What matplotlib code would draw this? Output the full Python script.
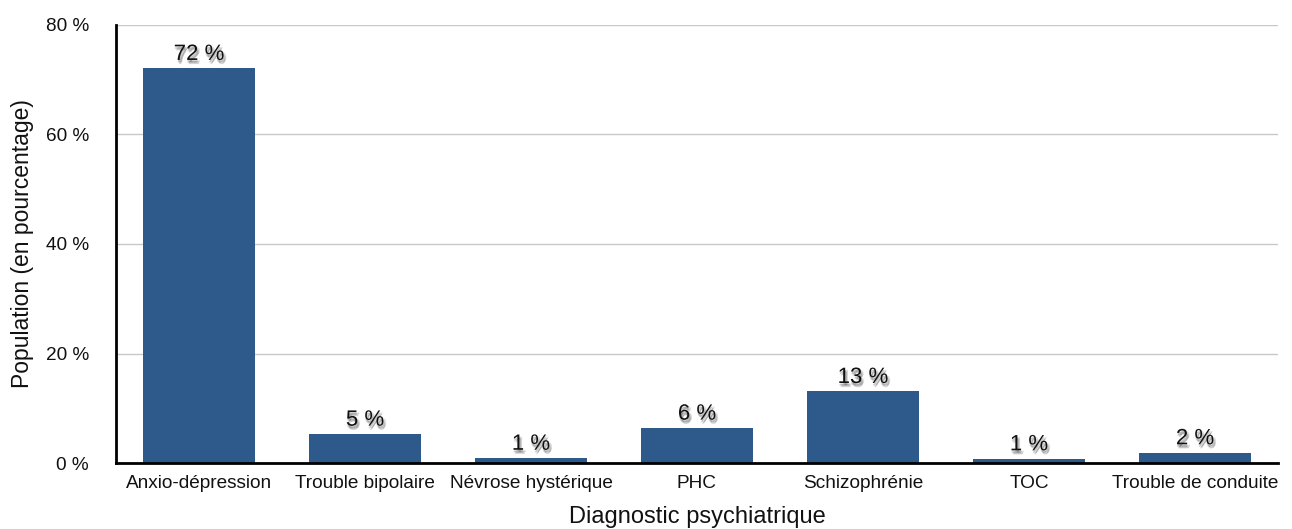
import matplotlib
matplotlib.use("Agg")
import matplotlib.pyplot as plt
import matplotlib.patheffects as pe
from matplotlib.ticker import FuncFormatter

categories = ["Anxio-dépression", "Trouble bipolaire", "Névrose hystérique",
              "PHC", "Schizophrénie", "TOC", "Trouble de conduite"]
values = [72.1, 5.3, 0.9, 6.4, 13.1, 0.8, 1.9]
yticks = [0, 20, 40, 60, 80]

plt.rcParams["font.family"] = ["Liberation Sans", "DejaVu Sans"]

fig = plt.figure(figsize=(12.92, 5.29), dpi=100)
ax = fig.add_axes([116 / 1292, 1 - 463 / 529, 1162 / 1292, 438 / 529])

x = range(len(categories))
bars = ax.bar(x, values, width=0.67, color="#2d5a8b", zorder=3)

ax.set_xlim(-0.5, len(categories) - 0.5)
ax.set_ylim(0, 80)
ax.set_yticks(yticks)
ax.yaxis.set_major_formatter(FuncFormatter(lambda v, p: f"{v:.0f} %"))
ax.set_xticks(list(x))
ax.set_xticklabels(categories)
ax.tick_params(axis="both", length=0, labelsize=13.7, colors="#111111")
ax.tick_params(axis="x", pad=9)
ax.tick_params(axis="y", pad=19.5)

ax.grid(axis="y", color="#c8c8c8", linewidth=1, zorder=0)
for side in ("top", "right"):
    ax.spines[side].set_visible(False)
for side in ("left", "bottom"):
    ax.spines[side].set_linewidth(2)
    ax.spines[side].set_color("black")
    ax.spines[side].set_zorder(4)

ax.set_xlabel("Diagnostic psychiatrique", fontsize=17, labelpad=10, color="#111111")
ax.set_ylabel("Population (en pourcentage)", fontsize=16.5, labelpad=8.5, color="#111111")

# soft drop shadow under each value label
shadow = [pe.SimplePatchShadow(offset=(dx, dy), shadow_rgbFace="black", alpha=0.12)
          for dx, dy in [(0.5, -1.5), (1.5, -2.5), (1, -3), (0, -2), (2, -1.5)]]
shadow.append(pe.Normal())

for bar, v in zip(bars, values):
    ax.text(bar.get_x() + bar.get_width() / 2, v + 0.6, f"{v:.0f} %",
            ha="center", va="bottom", fontsize=16, color="#111111",
            path_effects=shadow, zorder=5)

fig.savefig("out.png", dpi=100)
